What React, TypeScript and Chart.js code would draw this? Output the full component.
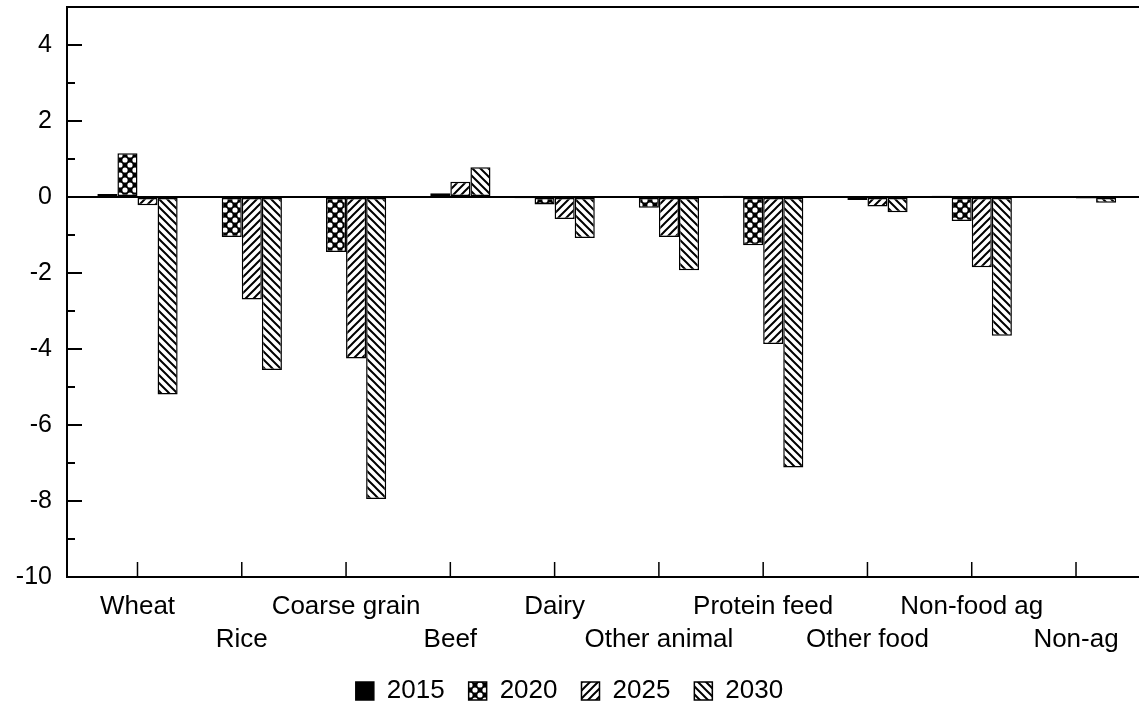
import React, { useEffect, useRef } from "react";
import { Chart, registerables } from "chart.js";

Chart.register(...registerables);

const categories = [
  "Wheat",
  "Rice",
  "Coarse grain",
  "Beef",
  "Dairy",
  "Other animal",
  "Protein feed",
  "Other food",
  "Non-food ag",
  "Non-ag",
];
const seriesNames = ["2015", "2020", "2025", "2030"];
const values2015 = [0.08, 0.02, 0.02, 0.02, -0.03, 0.02, 0.03, 0.02, 0.03, 0.0];
const values2020 = [1.15, -1.05, -1.45, 0.1, -0.2, -0.28, -1.27, -0.08, -0.63, -0.02];
const values2025 = [-0.22, -2.7, -4.25, 0.4, -0.58, -1.05, -3.87, -0.25, -1.85, -0.04];
const values2030 = [-5.2, -4.55, -7.95, 0.78, -1.08, -1.93, -7.12, -0.4, -3.65, -0.15];
const yMin = -10;
const yMax = 5;

const FONT = "'Liberation Sans', Arial, Helvetica, sans-serif";

function makePattern(kind: string): CanvasPattern | string {
  if (kind === "solid") return "#000";
  const c = document.createElement("canvas");
  const s = kind === "cross" ? 10 : 8;
  c.width = s;
  c.height = s;
  const g = c.getContext("2d")!;
  g.fillStyle = "#fff";
  g.fillRect(0, 0, s, s);
  g.strokeStyle = "#000";
  g.lineCap = "square";
  if (kind === "cross") {
    g.fillStyle = "#000";
    g.fillRect(0, 0, s, s);
    g.fillStyle = "#fff";
    const pts = [
      [s / 2, 0],
      [0, s / 2],
      [s, s / 2],
      [s / 2, s],
    ];
    for (const [px, py] of pts) {
      g.beginPath();
      g.arc(px, py, 2.6, 0, Math.PI * 2);
      g.fill();
    }
  } else if (kind === "fwd") {
    g.lineWidth = 2;
    g.beginPath();
    g.moveTo(-1, s + 1);
    g.lineTo(s + 1, -1);
    g.moveTo(-s / 2 - 1, s / 2 + 1);
    g.lineTo(s / 2 + 1, -s / 2 - 1);
    g.moveTo(s / 2 - 1, (3 * s) / 2 + 1);
    g.lineTo((3 * s) / 2 + 1, s / 2 - 1);
    g.stroke();
  } else {
    g.lineWidth = 2;
    g.beginPath();
    g.moveTo(-1, -1);
    g.lineTo(s + 1, s + 1);
    g.moveTo(s / 2 - 1, -s / 2 - 1);
    g.lineTo((3 * s) / 2 + 1, s / 2 + 1);
    g.moveTo(-s / 2 - 1, s / 2 - 1);
    g.lineTo(s / 2 + 1, (3 * s) / 2 + 1);
    g.stroke();
  }
  return g.createPattern(c, "repeat")!;
}

const frameTicks = {
  id: "frameTicks",
  afterDatasetsDraw(chart: any) {
    const { ctx, chartArea, scales } = chart;
    const x = scales.x;
    const y = scales.y;
    ctx.save();
    ctx.strokeStyle = "#000";
    ctx.lineWidth = 2;
    ctx.beginPath();
    ctx.moveTo(chartArea.left, chartArea.top);
    ctx.lineTo(chartArea.right, chartArea.top);
    for (let v = yMin + 1; v < yMax; v++) {
      const py = y.getPixelForValue(v);
      const len = v % 2 === 0 ? 15 : 8;
      ctx.moveTo(chartArea.left, py);
      ctx.lineTo(chartArea.left + len, py);
    }
    ctx.stroke();
    ctx.lineWidth = 1.5;
    ctx.beginPath();
    categories.forEach((_, i) => {
      const px = x.getPixelForValue(i);
      ctx.moveTo(px, chartArea.bottom);
      ctx.lineTo(px, chartArea.bottom - 15);
    });
    ctx.stroke();
    ctx.restore();
  },
};

export default function App() {
  const ref = useRef<HTMLCanvasElement>(null);
  useEffect(() => {
    document.body.style.margin = "0";
    const kinds = ["solid", "cross", "fwd", "back"];
    const all = [values2015, values2020, values2025, values2030];
    const datasets = seriesNames.map((name, k) => {
      const pat = makePattern(kinds[k]);
      return {
        label: name,
        data: all[k].map((v, i) => ({ x: i, y: v })),
        backgroundColor: pat,
        borderColor: "#000",
        borderWidth: 1.5,
        borderSkipped: false,
        categoryPercentage: 0.77,
        barPercentage: 1.0,
      };
    });
    const chart = new Chart(ref.current!, {
      type: "bar",
      data: { datasets } as any,
      plugins: [frameTicks],
      options: {
        animation: false,
        responsive: false,
        devicePixelRatio: 1,
        layout: { padding: { top: 7, left: 0, right: 0, bottom: -11 } },
        plugins: {
          tooltip: { enabled: false },
          legend: {
            position: "bottom",
            labels: {
              color: "#000",
              font: { family: FONT, size: 26 },
              boxWidth: 18,
              boxHeight: 18,
              padding: 24,
            },
          },
        },
        scales: {
          x: {
            type: "linear",
            offset: false,
            min: -0.676,
            max: 9.604,
            afterBuildTicks: (scale: any) => {
              scale.ticks = categories.map((_, i) => ({ value: i }));
            },
            afterFit: (scale: any) => {
              scale.height = 77;
              scale.paddingLeft = 0;
              scale.paddingRight = 0;
            },
            ticks: {
              autoSkip: false,
              maxRotation: 0,
              padding: 14,
              color: "#000",
              font: { family: FONT, size: 26, lineHeight: 1.25 },
              callback: (v: any) => {
                const i = Math.round(Number(v));
                const name = categories[i] ?? "";
                return i % 2 === 0 ? [name, ""] : ["", name];
              },
            },
            grid: { drawTicks: false, offset: false, color: "rgba(0,0,0,0)" },
            border: { display: true, color: "#000", width: 2 },
          },
          y: {
            min: yMin,
            max: yMax,
            afterFit: (scale: any) => {
              scale.width = 67;
              scale.paddingTop = 0;
              scale.paddingBottom = 0;
            },
            ticks: {
              stepSize: 1,
              padding: 15,
              color: "#000",
              font: { family: FONT, size: 25 },
              callback: (v: any) => (Number(v) % 2 === 0 ? String(v) : null),
            },
            grid: {
              drawTicks: false,
              lineWidth: 2,
              color: (c: any) => (c.tick && c.tick.value === 0 ? "#000" : "rgba(0,0,0,0)"),
            },
            border: { display: true, color: "#000", width: 2 },
          },
        },
      } as any,
    });
    return () => chart.destroy();
  }, []);
  return (
    <div style={{ width: 1139, height: 703, background: "#fff" }}>
      <canvas ref={ref} width={1139} height={703} style={{ display: "block" }} />
    </div>
  );
}
